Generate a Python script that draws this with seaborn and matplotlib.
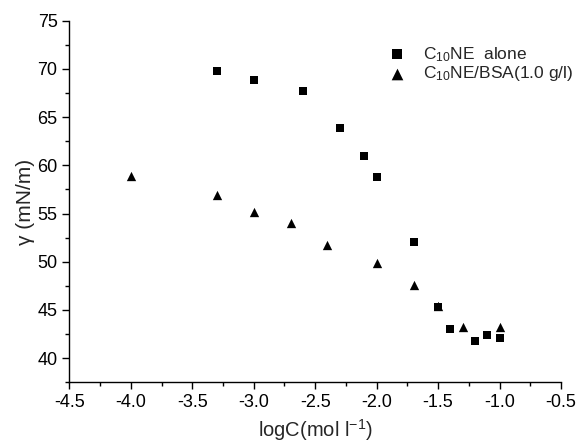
import numpy as np
import pandas as pd
import matplotlib
matplotlib.use("Agg")
import matplotlib.pyplot as plt
from matplotlib.ticker import MultipleLocator, FormatStrFormatter
import seaborn as sns

# Surface tension vs. log concentration
alone_logc = [-3.3, -3.0, -2.6, -2.3, -2.1, -2.0, -1.7, -1.5, -1.4, -1.2, -1.1, -1.0]
alone_gamma = [69.8, 68.8, 67.7, 63.9, 61.0, 58.8, 52.0, 45.3, 43.0, 41.8, 42.4, 42.1]

bsa_logc = [-4.0, -3.3, -3.0, -2.7, -2.4, -2.0, -1.7, -1.5, -1.3, -1.0]
bsa_gamma = [58.9, 56.9, 55.2, 54.0, 51.7, 49.9, 47.6, 45.4, 43.2, 43.2]

series_names = ["C$_{10}$NE  alone", "C$_{10}$NE/BSA(1.0 g/l)"]

df = pd.concat([
    pd.DataFrame({"logC": alone_logc, "gamma": alone_gamma, "series": series_names[0]}),
    pd.DataFrame({"logC": bsa_logc, "gamma": bsa_gamma, "series": series_names[1]}),
])

sns.set_style("ticks")
plt.rcParams["font.family"] = ["Liberation Sans", "DejaVu Sans"]
plt.rcParams["mathtext.fontset"] = "custom"
plt.rcParams["mathtext.rm"] = "Liberation Sans"
plt.rcParams["mathtext.it"] = "Liberation Sans:italic"
plt.rcParams["mathtext.sf"] = "Liberation Sans"

fig = plt.figure(figsize=(5.78, 4.44), dpi=100)
ax = fig.add_axes([0.12, 0.139, 0.8506, 0.8144])

sizes = {series_names[0]: 30, series_names[1]: 45}
markers = {series_names[0]: "s", series_names[1]: "^"}
for name in series_names:
    sub = df[df["series"] == name]
    sns.scatterplot(data=sub, x="logC", y="gamma", marker=markers[name],
                    s=sizes[name], color="black", edgecolor="black",
                    linewidth=0, ax=ax, label=name, legend=False)

ax.set_xlim(-4.5, -0.5)
ax.set_ylim(37.5, 75)
ax.xaxis.set_major_locator(MultipleLocator(0.5))
ax.xaxis.set_minor_locator(MultipleLocator(0.25))
ax.xaxis.set_major_formatter(FormatStrFormatter("%.1f"))
ax.yaxis.set_major_locator(MultipleLocator(5))
ax.yaxis.set_minor_locator(MultipleLocator(2.5))

for side in ["top", "right"]:
    ax.spines[side].set_visible(False)
for side in ["left", "bottom"]:
    ax.spines[side].set_linewidth(1.0)
    ax.spines[side].set_color("black")

ax.tick_params(which="major", direction="out", length=5, width=1, colors="black",
               labelsize=13)
ax.tick_params(which="minor", direction="out", length=3, width=1, colors="black")

ax.set_xlabel("logC(mol l$^{-1}$)", fontsize=14.5, labelpad=4)
ax.set_ylabel("γ (mN/m)", fontsize=15, labelpad=2)

ax.legend(loc="upper right", bbox_to_anchor=(1.047, 0.962), frameon=False,
          fontsize=12.5, handletextpad=0.5, labelspacing=0.05, borderaxespad=0.2,
          markerscale=1.25)

fig.savefig("out.png", dpi=100)
